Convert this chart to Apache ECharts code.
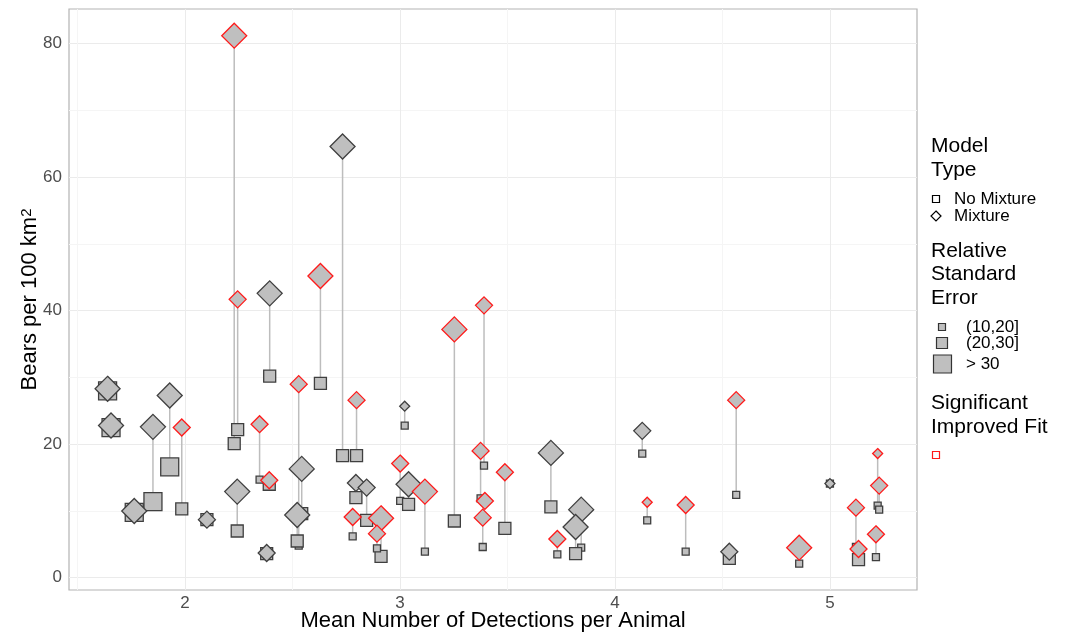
<!DOCTYPE html>
<html><head><meta charset="utf-8">
<script src="https://cdn.jsdelivr.net/npm/echarts@6/dist/echarts.min.js"></script>
<style>html,body{margin:0;padding:0;background:#fff}#c{width:1070px;height:634px}</style>
</head><body><div id="c"></div>
<script>
// ---- data ----
const detections = [1.640,1.656,1.764,1.851,1.929,1.985,2.102,2.229,2.245,2.243,2.347,2.392,2.380,2.394,2.529,2.543,2.522,2.630,2.733,2.798,2.795,2.845,2.780,2.912,2.893,3.022,3.001,3.040,3.116,3.253,3.391,3.375,3.395,3.385,3.488,3.702,3.732,3.843,3.817,4.127,4.150,4.329,4.532,4.564,4.857,5.000,5.121,5.133,5.222,5.229,5.214];
const densityNoMixture = [28.0,22.5,9.8,11.4,16.6,10.3,8.7,20.1,22.2,7.0,14.7,14.0,3.6,30.2,4.8,9.6,5.5,29.1,18.3,18.3,12.0,8.6,6.2,3.2,4.4,22.8,11.5,11.0,3.9,8.5,16.8,11.9,11.4,4.6,7.4,10.6,3.5,4.5,3.6,18.6,8.6,3.9,2.9,12.4,2.1,14.1,4.6,2.7,10.8,10.2,3.1];
const densityMixture = [28.3,22.8,10.0,22.6,27.3,22.5,8.7,81.2,41.7,12.9,23.0,14.6,3.7,42.6,29.0,16.3,9.4,45.2,64.6,26.6,14.2,13.5,9.1,8.9,6.6,25.7,17.1,14.0,12.9,37.2,40.8,19.0,11.5,9.0,15.8,18.7,5.8,10.2,7.6,22.0,11.3,10.9,3.9,26.6,4.5,14.1,10.5,4.3,18.6,13.8,6.5];
const rseNoMixture = ['> 30','> 30','> 30','> 30','> 30','(20,30]','(20,30]','(20,30]','(20,30]','(20,30]','(10,20]','(20,30]','(20,30]','(20,30]','(10,20]','(20,30]','(20,30]','(20,30]','(20,30]','(20,30]','(20,30]','(20,30]','(10,20]','(20,30]','(10,20]','(10,20]','(10,20]','(20,30]','(10,20]','(20,30]','(10,20]','(10,20]','(10,20]','(10,20]','(20,30]','(20,30]','(10,20]','(10,20]','(20,30]','(10,20]','(10,20]','(10,20]','(20,30]','(10,20]','(10,20]','(10,20]','(10,20]','(20,30]','(10,20]','(10,20]','(10,20]'];
const rseMixture = ['> 30','> 30','> 30','> 30','> 30','(20,30]','(20,30]','> 30','(20,30]','> 30','(20,30]','(20,30]','(20,30]','> 30','(20,30]','> 30','> 30','> 30','> 30','(20,30]','(20,30]','(20,30]','(20,30]','> 30','(20,30]','(10,20]','(20,30]','> 30','> 30','> 30','(20,30]','(20,30]','(20,30]','(20,30]','(20,30]','> 30','(20,30]','> 30','> 30','(20,30]','(10,20]','(20,30]','(20,30]','(20,30]','> 30','(10,20]','(20,30]','(20,30]','(10,20]','(20,30]','(20,30]'];
const significantFit = [0,0,0,0,0,1,0,1,1,0,1,1,0,0,1,0,0,1,0,1,0,0,1,1,1,0,1,0,1,1,1,1,1,1,1,0,1,0,0,0,1,1,0,1,1,0,1,1,1,1,1];
const rseLevels = ['(10,20]','(20,30]','> 30'];
const modelTypes = ['No Mixture','Mixture'];
const xTickLabels = [2,3,4,5];
const xGridValues = [1.5,2,2.5,3,3.5,4,4.5,5];
const yTickLabels = [0,20,40,60,80];
const yGridValues = [0,10,20,30,40,50,60,70,80];

// ---- styles ----
const squareSize = {'(10,20]':7,'(20,30]':12,'> 30':18};
const diamondSize = {'(10,20]':10,'(20,30]':17,'> 30':25};
const FILL = '#BFBFBF', EDGE = '#3F3F3F', RED = '#FF1A1A';
const FONT = '"Liberation Sans", Arial, Helvetica, sans-serif';

const segData = detections.map((x,i)=>[x, densityNoMixture[i], densityMixture[i]]);
const sqData = detections.map((x,i)=>({value:[x, densityNoMixture[i]], symbolSize: squareSize[rseNoMixture[i]]}));
const diaData = detections.map((x,i)=>({value:[x, densityMixture[i]], symbolSize: diamondSize[rseMixture[i]],
  itemStyle:{borderColor: significantFit[i] ? RED : EDGE}}));

function txt(x,y,s,size){return {type:'text', x:x, y:y, silent:true, style:{text:s, font: size+'px '+FONT, fill:'#000', verticalAlign:'middle', align:'left'}};}
function sq(cx,cy,s,fill,stroke){return {type:'rect', silent:true, shape:{x:cx-s/2,y:cy-s/2,width:s,height:s}, style:{fill:fill, stroke:stroke, lineWidth:1.2}};}

const legendGraphics = [
  txt(931,146,'Model',21), txt(931,170,'Type',21),
  sq(936,199,7,'none','#000'), txt(954,199,modelTypes[0],17),
  {type:'polygon', silent:true, shape:{points:[[936,211],[941,216],[936,221],[931,216]]}, style:{fill:'none', stroke:'#000', lineWidth:1.2}},
  txt(954,216,modelTypes[1],17),
  txt(931,251,'Relative',21), txt(931,274,'Standard',21), txt(931,298,'Error',21),
  sq(942,327,7,FILL,'#333'), txt(966,327,rseLevels[0],17),
  sq(942,343,11,FILL,'#333'), txt(966,343,rseLevels[1],17),
  sq(942.5,364,18,FILL,'#333'), txt(966,364,rseLevels[2],17),
  txt(931,403,'Significant',21), txt(931,427,'Improved Fit',21),
  sq(936,455,7,'#fff',RED)
];

const chart = echarts.init(document.getElementById('c'), null, {renderer:'canvas'});
chart.setOption({
  animation:false,
  backgroundColor:'#fff',
  grid:{left:69, right:153, top:9, bottom:44, show:true, borderColor:'#B3B3B3', borderWidth:1.2, containLabel:false, outerBoundsMode:'none'},
  xAxis:{type:'value', min:1.4605, max:5.405,
    name:'Mean Number of Detections per Animal', nameLocation:'middle', nameGap:20, nameMoveOverlap:false,
    nameTextStyle:{fontSize:22, color:'#000', fontFamily:FONT},
    axisLine:{show:false}, axisTick:{show:false, customValues:xGridValues},
    axisLabel:{customValues:xTickLabels, fontSize:17, color:'#4D4D4D', fontFamily:FONT, margin:5},
    splitLine:{show:true, lineStyle:{color:['#F5F5F5','#EBEBEB'], width:1}}
  },
  yAxis:{type:'value', min:-1.84, max:85.2,
    name:'Bears per 100 km{sup|2}', nameLocation:'middle', nameGap:28, nameMoveOverlap:false,
    nameTextStyle:{fontSize:22, color:'#000', fontFamily:FONT, rich:{sup:{fontSize:15, verticalAlign:'top', fontFamily:FONT, color:'#000'}}},
    axisLine:{show:false}, axisTick:{show:false, customValues:yGridValues},
    axisLabel:{customValues:yTickLabels, fontSize:17, color:'#4D4D4D', fontFamily:FONT, margin:7},
    splitLine:{show:true, lineStyle:{color:['#EBEBEB','#F5F5F5'], width:1}}
  },
  series:[
    {type:'custom', z:2, silent:true, data:segData, encode:{x:0, y:[1,2]},
      renderItem:function(params, api){
        const a = api.coord([api.value(0), api.value(1)]);
        const b = api.coord([api.value(0), api.value(2)]);
        return {type:'line', shape:{x1:a[0], y1:a[1], x2:b[0], y2:b[1]}, style:{stroke:'#BDBDBD', lineWidth:1.5}};
      }},
    {type:'scatter', name:modelTypes[0], z:3, symbol:'rect', data:sqData, silent:true,
      itemStyle:{color:FILL, borderColor:EDGE, borderWidth:1.3, opacity:1}},
    {type:'scatter', name:modelTypes[1], z:4, symbol:'diamond', data:diaData, silent:true,
      itemStyle:{color:FILL, borderColor:EDGE, borderWidth:1.3, opacity:1}}
  ],
  graphic: legendGraphics
});
</script>
</body></html>
